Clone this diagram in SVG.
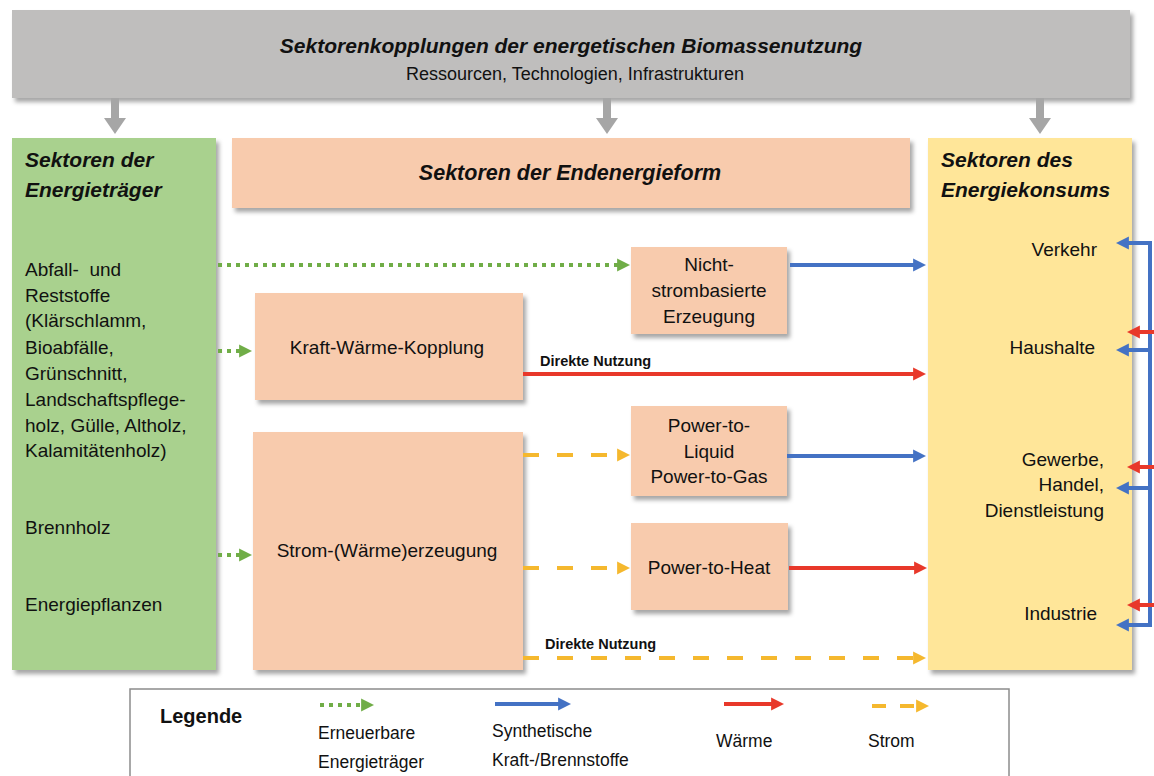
<svg xmlns="http://www.w3.org/2000/svg" width="1154" height="776" viewBox="0 0 1154 776">
<style>
text{font-family:"Liberation Sans",Arial,sans-serif;fill:#111;}
.t{font-size:19px;}
.lg{font-size:17.5px;}
.h{font-size:21px;font-weight:bold;font-style:italic;}
.lab{font-size:14.5px;font-weight:bold;}
.c{text-anchor:middle;}
.r{text-anchor:end;}
.green{stroke:#70ad47;stroke-width:4;stroke-dasharray:4 5;fill:none;}
.blue{stroke:#4472c4;stroke-width:4;fill:none;}
.red{stroke:#e8382a;stroke-width:4;fill:none;}
.yel{stroke:#f5b82e;stroke-width:4;stroke-dasharray:16 18;fill:none;}
.node{fill:#f8cbad;filter:url(#sh);}
</style>
<defs>
<filter id="sh" x="-10%" y="-10%" width="130%" height="130%"><feDropShadow dx="3" dy="4" stdDeviation="2" flood-color="#000" flood-opacity="0.35"/></filter>
<marker id="mg" viewBox="0 0 10 10" refX="3" refY="5" markerWidth="13" markerHeight="14" markerUnits="userSpaceOnUse" orient="auto"><path d="M0,0 L10,5 L0,10 z" fill="#70ad47"/></marker>
<marker id="mb" viewBox="0 0 10 10" refX="3" refY="5" markerWidth="13" markerHeight="14" markerUnits="userSpaceOnUse" orient="auto"><path d="M0,0 L10,5 L0,10 z" fill="#4472c4"/></marker>
<marker id="mr" viewBox="0 0 10 10" refX="3" refY="5" markerWidth="13" markerHeight="14" markerUnits="userSpaceOnUse" orient="auto"><path d="M0,0 L10,5 L0,10 z" fill="#e8382a"/></marker>
<marker id="my" viewBox="0 0 10 10" refX="3" refY="5" markerWidth="13" markerHeight="14" markerUnits="userSpaceOnUse" orient="auto"><path d="M0,0 L10,5 L0,10 z" fill="#f5b82e"/></marker>
</defs>
<rect width="1154" height="776" fill="#fff"/>

<g id="top">
<rect x="12" y="10" width="1118" height="88" fill="#bfbebd" filter="url(#sh)"/>
<text class="h c" x="571" y="53">Sektorenkopplungen der energetischen Biomassenutzung</text>
<text class="c" x="575" y="80" style="font-size:18px">Ressourcen, Technologien, Infrastrukturen</text>
</g>

<g id="gray-arrows" fill="#a6a6a6">
<path d="M111,98 h8 v20 h7 l-11,16 l-11,-16 h7 z"/>
<path d="M603,98 h8 v20 h7 l-11,16 l-11,-16 h7 z"/>
<path d="M1036,98 h8 v20 h7 l-11,16 l-11,-16 h7 z"/>
</g>

<g id="energietraeger">
<rect x="12" y="138" width="204" height="532" fill="#a9d18e" filter="url(#sh)"/>
<text class="h" x="25" y="167">Sektoren der</text>
<text class="h" x="25" y="197">Energieträger</text>
<text class="t" x="25" y="276" style="white-space:pre">Abfall-  und</text>
<text class="t" x="25" y="302">Reststoffe</text>
<text class="t" x="25" y="327">(Klärschlamm,</text>
<text class="t" x="25" y="354">Bioabfälle,</text>
<text class="t" x="25" y="380">Grünschnitt,</text>
<text class="t" x="25" y="406">Landschaftspflege-</text>
<text class="t" x="25" y="432">holz, Gülle, Altholz,</text>
<text class="t" x="25" y="457">Kalamitätenholz)</text>
<text class="t" x="25" y="534">Brennholz</text>
<text class="t" x="25" y="611">Energiepflanzen</text>
</g>

<g id="endenergieform">
<rect x="232" y="138" width="678" height="70" class="node"/>
<text class="h c" x="570" y="180" style="font-size:21.5px">Sektoren der Endenergieform</text>
</g>

<g id="energiekonsum">
<rect x="928" y="138" width="204" height="532" fill="#ffe699" filter="url(#sh)"/>
<text class="h" x="941" y="167">Sektoren des</text>
<text class="h" x="941" y="197">Energiekonsums</text>
<text class="t r" x="1097" y="256">Verkehr</text>
<text class="t r" x="1095" y="354">Haushalte</text>
<text class="t r" x="1104" y="466">Gewerbe,</text>
<text class="t r" x="1104" y="491">Handel,</text>
<text class="t r" x="1104" y="517">Dienstleistung</text>
<text class="t r" x="1097" y="620">Industrie</text>
</g>

<g id="nicht-strombasiert">
<rect x="631" y="247" width="156" height="87" class="node"/>
<text class="t c" x="709" y="271">Nicht-</text>
<text class="t c" x="709" y="297">strombasierte</text>
<text class="t c" x="709" y="323">Erzeugung</text>
</g>

<g id="kwk">
<rect x="255" y="293" width="268" height="107" class="node"/>
<text class="t c" x="387" y="354">Kraft-Wärme-Kopplung</text>
</g>

<g id="strom-waerme">
<rect x="253" y="432" width="270" height="238" class="node"/>
<text class="t c" x="387" y="557">Strom-(Wärme)erzeugung</text>
</g>

<g id="ptl-ptg">
<rect x="631" y="406" width="156" height="90" class="node"/>
<text class="t c" x="709" y="432">Power-to-</text>
<text class="t c" x="709" y="458">Liquid</text>
<text class="t c" x="709" y="483">Power-to-Gas</text>
</g>

<g id="pth">
<rect x="631" y="523" width="157" height="87" class="node"/>
<text class="t c" x="709" y="574">Power-to-Heat</text>
</g>

<g id="connectors">
<line class="green" x1="218" y1="265" x2="621" y2="265" marker-end="url(#mg)"/>
<line class="green" x1="218" y1="351" x2="243" y2="351" marker-end="url(#mg)"/>
<line class="green" x1="218" y1="555" x2="243" y2="555" marker-end="url(#mg)"/>
<line class="blue" x1="790" y1="265" x2="917" y2="265" marker-end="url(#mb)"/>
<line class="red" x1="523" y1="374" x2="917" y2="374" marker-end="url(#mr)"/>
<text class="lab" x="540" y="366">Direkte Nutzung</text>
<line class="yel" x1="523" y1="455" x2="621" y2="455" marker-end="url(#my)"/>
<line class="blue" x1="787" y1="456" x2="917" y2="456" marker-end="url(#mb)"/>
<line class="yel" x1="523" y1="568" x2="621" y2="568" marker-end="url(#my)"/>
<line class="red" x1="789" y1="568" x2="918" y2="568" marker-end="url(#mr)"/>
<line class="yel" x1="523" y1="658" x2="917" y2="658" marker-end="url(#my)"/>
<text class="lab" x="545" y="649">Direkte Nutzung</text>
<line class="blue" x1="1150" y1="241" x2="1150" y2="627"/>
<line class="blue" x1="1152" y1="243" x2="1125" y2="243" marker-end="url(#mb)"/>
<line class="blue" x1="1152" y1="350" x2="1125" y2="350" marker-end="url(#mb)"/>
<line class="blue" x1="1152" y1="488" x2="1125" y2="488" marker-end="url(#mb)"/>
<line class="blue" x1="1152" y1="625" x2="1125" y2="625" marker-end="url(#mb)"/>
<line class="red" x1="1156" y1="332" x2="1136" y2="332" marker-end="url(#mr)"/>
<line class="red" x1="1156" y1="467" x2="1136" y2="467" marker-end="url(#mr)"/>
<line class="red" x1="1156" y1="605" x2="1136" y2="605" marker-end="url(#mr)"/>
</g>

<g id="legend">
<rect x="130" y="689" width="879" height="100" fill="#fff" stroke="#8c8c8c" stroke-width="1.5"/>
<text x="160" y="723" style="font-size:20px;font-weight:bold">Legende</text>
<line class="green" x1="320" y1="705" x2="365" y2="705" marker-end="url(#mg)"/>
<text class="lg" x="318" y="739">Erneuerbare</text>
<text class="lg" x="318" y="768">Energieträger</text>
<line class="blue" x1="495" y1="704" x2="562" y2="704" marker-end="url(#mb)"/>
<text class="lg" x="492" y="737">Synthetische</text>
<text class="lg" x="492" y="766">Kraft-/Brennstoffe</text>
<line class="red" x1="724" y1="704" x2="775" y2="704" marker-end="url(#mr)"/>
<text class="lg" x="716" y="747">Wärme</text>
<line class="yel" x1="872" y1="706" x2="920" y2="706" style="stroke-dasharray:14 14" marker-end="url(#my)"/>
<text class="lg" x="868" y="747">Strom</text>
</g>
</svg>
